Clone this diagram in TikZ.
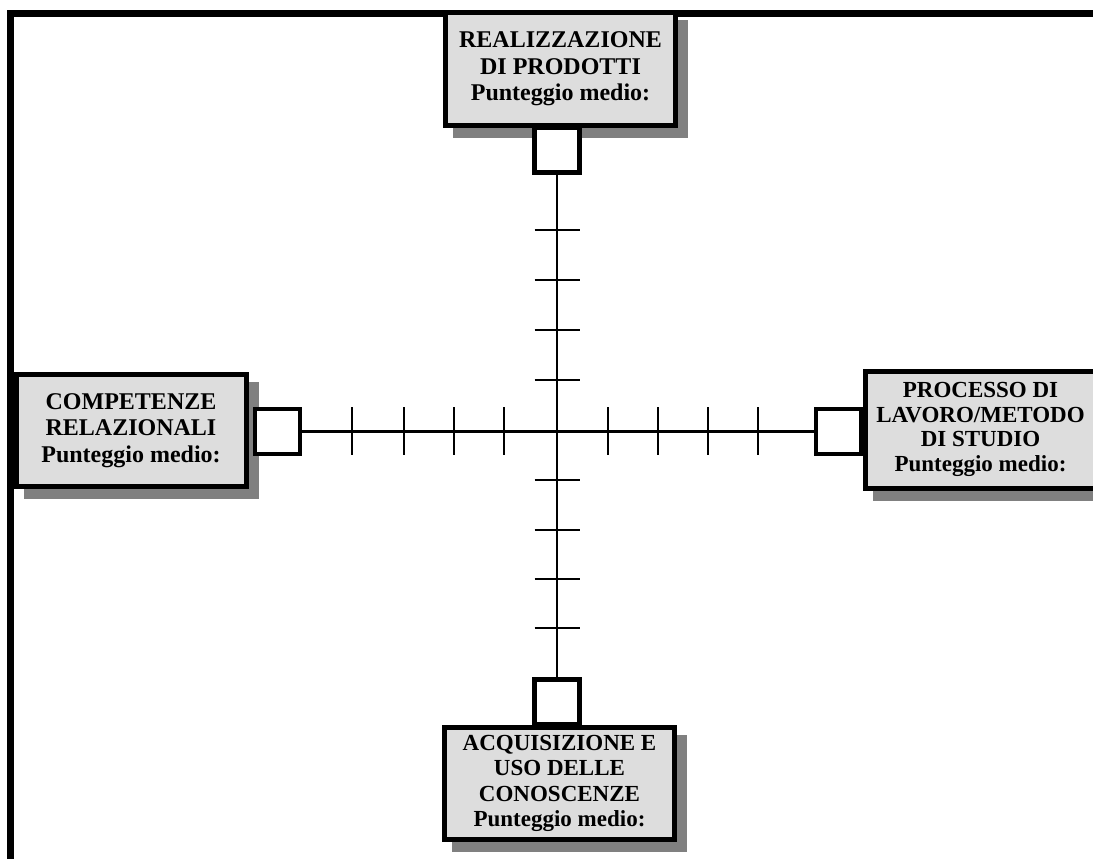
\documentclass[tikz,border=0pt]{standalone}
\usepackage{fontspec}
\setmainfont{Liberation Serif}
\usetikzlibrary{shadows}
\definecolor{boxfill}{HTML}{DDDDDD}
\definecolor{shadowgray}{HTML}{808080}
\begin{document}
\begin{tikzpicture}[x=1pt,y=-1pt,
  box/.style={draw, line width=5pt, fill=boxfill, minimum width=230pt,
    minimum height=112.5pt, inner sep=0pt, align=center,
    general shadow={fill=shadowgray, draw=shadowgray, line width=5pt,
      shadow xshift=10pt, shadow yshift=-10pt}},
  bigtext/.style={font={\fontsize{24}{26.5}\selectfont\bfseries}},
  smalltext/.style={font={\fontsize{23}{24.5}\selectfont\bfseries}},
  sq/.style={draw, line width=4.5pt, fill=white, minimum size=45pt,
    inner sep=0pt},
  axis/.style={line width=2.7pt},
  tick/.style={line width=2.7pt}]
\useasboundingbox (0,0) rectangle (1093,859);
% frame
\draw[line width=7pt] (10.5,875) -- (10.5,13.3) -- (1110,13.3);
% boxes
\node[box,bigtext] (top) at (560.5,68.8)
  {REALIZZAZIONE\\DI PRODOTTI\\Punteggio medio:};
\node[box,bigtext] (left) at (131,430.5)
  {COMPETENZE\\RELAZIONALI\\Punteggio medio:};
\node[box,smalltext,minimum height=117pt] (right) at (980.5,429.5)
  {PROCESSO DI\\LAVORO/METODO\\DI STUDIO\\Punteggio medio:};
\node[box,font={\fontsize{23}{25.5}\selectfont\bfseries}] (bottom) at (559.5,783.5)
  {ACQUISIZIONE E\\USO DELLE\\CONOSCENZE\\Punteggio medio:};
% small squares
\node[sq] (sqT) at (557,150) {};
\node[sq] (sqL) at (277.5,431.5) {};
\node[sq] (sqR) at (838.5,431.5) {};
\node[sq] (sqB) at (557,702) {};
% axes
\draw[axis] (sqL) -- (sqR);
\draw[axis] (sqT) -- (sqB);
% ticks
\foreach \x in {352,404,454,504,608,658,708,758}
  \draw[tick] (\x,407) -- (\x,455);
\foreach \y in {230,280,330,380,480,530,579,628}
  \draw[tick] (534.5,\y) -- (579.5,\y);
\end{tikzpicture}
\end{document}
